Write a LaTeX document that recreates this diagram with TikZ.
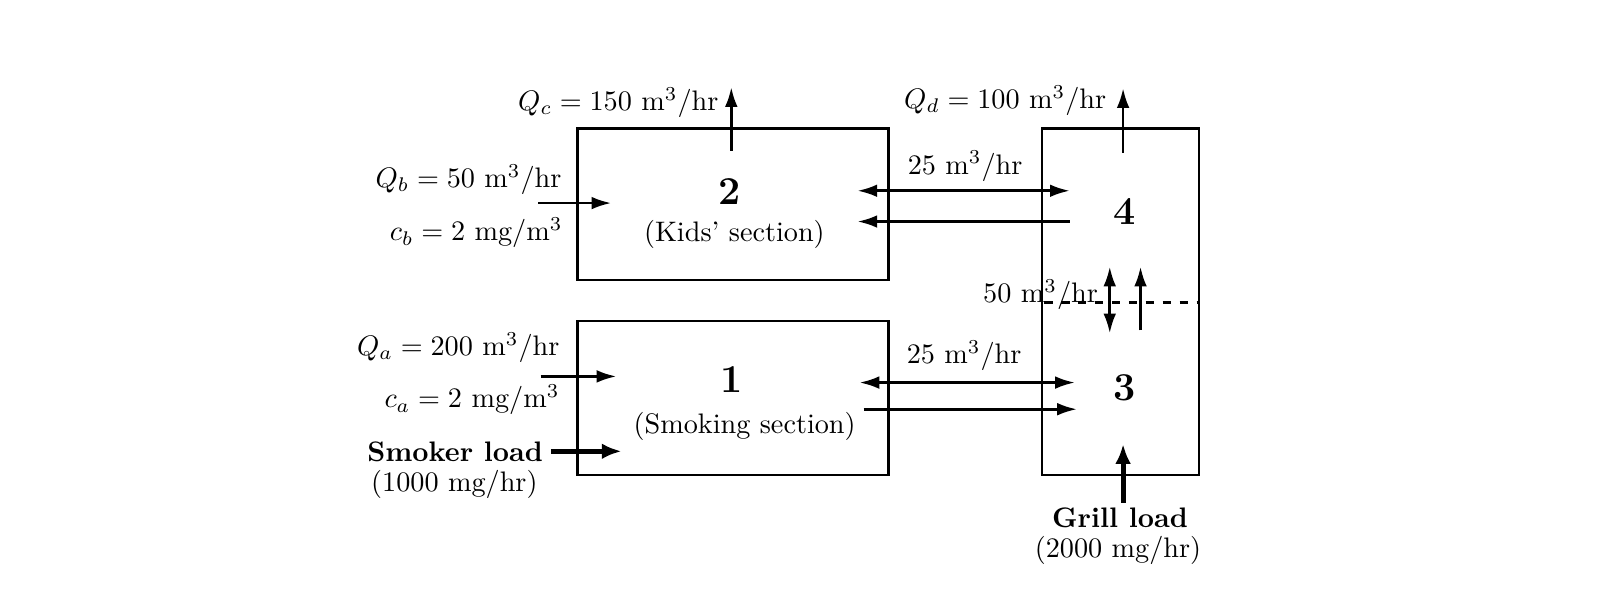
\documentclass[tikz,border=0pt]{standalone}
\usetikzlibrary{arrows.meta}
\begin{document}
\begin{tikzpicture}[x=0.012765cm,y=-0.012765cm,
  font=\fontsize{10pt}{12pt}\selectfont,
  box/.style={draw,line width=0.95pt},
  flow/.style={line width=0.95pt,-{Latex[length=7pt,width=4.5pt]}},
  dflow/.style={line width=0.95pt,{Latex[length=7pt,width=4.5pt]}-{Latex[length=7pt,width=4.5pt]}},
  load/.style={line width=1.8pt,-{Latex[length=7pt,width=5.6pt]}},
  num/.style={inner sep=0pt,font=\fontsize{14pt}{16pt}\selectfont\bfseries},
  lbl/.style={inner sep=0pt},
  blbl/.style={inner sep=0pt,font=\fontsize{10pt}{12pt}\selectfont\bfseries}]
\useasboundingbox (0,0) rectangle (1566.8,576.2);
% boxes
\draw[box] (563,125) rectangle (866,273);
\draw[box] (563,313) rectangle (866,463);
\draw[box] (1016,125) rectangle (1169,463);
\draw[line width=0.95pt,dashed] (1018,295) -- (1169,295);
% box labels
\node[num] (n2) at (711,187) {2};
\node[lbl] (k2) at (716,229) {(Kids' section)};
\node[num] (n1) at (713,370) {1};
\node[lbl] (k1) at (726,416) {(Smoking section)};
\node[num] (n4) at (1096,206) {4};
\node[num] (n3) at (1096,378) {3};
% coordinates
\coordinate (qc0) at (713,147); \coordinate (qc1) at (713,85);
\coordinate (qd0) at (1095,149); \coordinate (qd1) at (1095,86);
\coordinate (qb0) at (525,198); \coordinate (qb1) at (596,198);
\coordinate (qa0) at (527,367); \coordinate (qa1) at (601,367);
\coordinate (sl0) at (537,440); \coordinate (sl1) at (606,440);
\coordinate (gl0) at (1095,490); \coordinate (gl1) at (1095,433);
\coordinate (t0) at (836,186); \coordinate (t1) at (1043,186);
\coordinate (u0) at (1043,216); \coordinate (u1) at (836,216);
\coordinate (b0) at (838,373); \coordinate (b1) at (1048,373);
\coordinate (c0) at (842,399); \coordinate (c1) at (1050,399);
\coordinate (v0) at (1082,260); \coordinate (v1) at (1082,325);
\coordinate (w0) at (1112,322); \coordinate (w1) at (1112,260);
% arrows
\draw[flow] (qc0) -- (qc1);
\draw[flow] (qd0) -- (qd1);
\draw[flow] (qb0) -- (qb1);
\draw[flow] (qa0) -- (qa1);
\draw[load] (sl0) -- (sl1);
\draw[load] (gl0) -- (gl1);
\draw[dflow] (t0) -- (t1);
\draw[flow] (u0) -- (u1);
\draw[dflow] (b0) -- (b1);
\draw[flow] (c0) -- (c1);
\draw[dflow] (v0) -- (v1);
\draw[flow] (w0) -- (w1);
% flow labels
\node[lbl,anchor=east] (lqc) at (701,100) {$Q_c = 150$ m$^3$/hr};
\node[lbl,anchor=east] (lqd) at (1079,98) {$Q_d = 100$ m$^3$/hr};
\node[lbl,anchor=east] (lqb) at (548,175) {$Q_b = 50$ m$^3$/hr};
\node[lbl,anchor=east] (lcb) at (549,227) {$c_b = 2$ mg/m$^3$};
\node[lbl,anchor=east] (lqa) at (546,339) {$Q_a = 200$ m$^3$/hr};
\node[lbl,anchor=east] (lca) at (546,390) {$c_a = 2$ mg/m$^3$};
\node[blbl,anchor=east] (lsl) at (530,441) {Smoker load};
\node[lbl] (lsl2) at (443,472) {(1000 mg/hr)};
\node[blbl] (lgl) at (1092,505) {Grill load};
\node[lbl] (lgl2) at (1090,537) {(2000 mg/hr)};
\node[lbl] (lt) at (941,162) {25 m$^3$/hr};
\node[lbl] (lb) at (940,347) {25 m$^3$/hr};
\node[lbl,anchor=east] (lv) at (1071,287) {50 m$^3$/hr};
\end{tikzpicture}
\end{document}
